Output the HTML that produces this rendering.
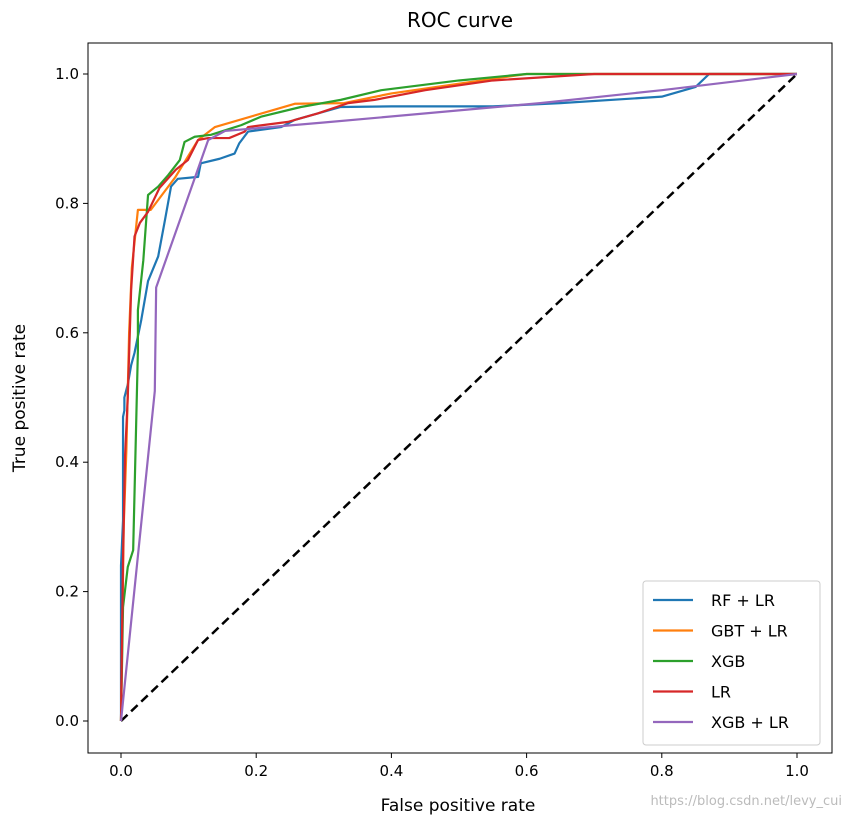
<!DOCTYPE html>
<html><head><meta charset="utf-8"><style>
body{margin:0;background:#fff;}
svg text{font-family:"DejaVu Sans","Liberation Sans",sans-serif;}
</style></head><body>
<svg id="chart" width="852" height="817">
<rect x="0" y="0" width="852" height="817" fill="#fff"/>
<text x="460" y="27" font-size="20" text-anchor="middle">ROC curve</text>
<g id="plot"></g>
<rect x="88" y="43" width="744" height="710" fill="none" stroke="#000" stroke-width="1"/>
<g id="axes"></g>
<text x="458" y="811" font-size="17" text-anchor="middle">False positive rate</text>
<text transform="translate(25,398) rotate(-90)" font-size="17" text-anchor="middle">True positive rate</text>
<text x="842" y="805" font-size="13" fill="#bbb" text-anchor="end">https://blog.csdn.net/levy_cui</text>
<g id="legend">
<rect x="643" y="581" width="177" height="164" rx="3" fill="#fff" fill-opacity="0.8" stroke="#ccc"/>
</g>
</svg>
<script>
const xTicks=[0,0.2,0.4,0.6,0.8,1.0];
const yTicks=[0,0.2,0.4,0.6,0.8,1.0];
const seriesNames=["RF + LR","GBT + LR","XGB","LR","XGB + LR"];
const seriesColors=["#1f77b4","#ff7f0e","#2ca02c","#d62728","#9467bd"];
const rfFpr=[0,0,0.003,0.003,0.005,0.005,0.01,0.015,0.02,0.03,0.04,0.055,0.065,0.074,0.084,0.114,0.118,0.146,0.168,0.175,0.188,0.237,0.257,0.291,0.325,0.4,0.55,0.65,0.8,0.85,0.87,1];
const rfTpr=[0,0.24,0.31,0.47,0.48,0.5,0.52,0.55,0.569,0.62,0.68,0.718,0.774,0.826,0.838,0.841,0.862,0.869,0.877,0.893,0.911,0.918,0.929,0.939,0.949,0.95,0.95,0.955,0.965,0.98,1,1];
const gbtFpr=[0,0.004,0.008,0.012,0.016,0.025,0.044,0.08,0.114,0.139,0.257,0.33,0.4,0.6,1];
const gbtTpr=[0,0.3,0.42,0.6,0.7,0.79,0.79,0.84,0.898,0.918,0.954,0.955,0.97,1,1];
const xgbFpr=[0,0.003,0.01,0.018,0.02,0.025,0.025,0.033,0.04,0.055,0.07,0.087,0.094,0.109,0.133,0.178,0.207,0.266,0.325,0.385,0.5,0.6,1];
const xgbTpr=[0,0.176,0.238,0.264,0.352,0.573,0.635,0.712,0.813,0.826,0.844,0.867,0.895,0.903,0.906,0.921,0.934,0.949,0.96,0.975,0.99,1,1];
const lrFpr=[0,0.003,0.006,0.01,0.015,0.02,0.028,0.04,0.057,0.081,0.099,0.114,0.129,0.16,0.183,0.188,0.247,0.291,0.336,0.375,0.45,0.55,0.7,1];
const lrTpr=[0,0.25,0.41,0.5,0.666,0.749,0.77,0.787,0.824,0.852,0.867,0.898,0.901,0.901,0.911,0.918,0.926,0.939,0.955,0.96,0.975,0.99,1,1];
const xlrFpr=[0,0.05,0.052,0.129,0.154,0.3,0.62,0.8,1];
const xlrTpr=[0,0.51,0.67,0.898,0.912,0.925,0.955,0.975,1];
const xs=v=>121+v*676, ys=v=>721-v*647;
const NS="http://www.w3.org/2000/svg";
const axes=document.getElementById('axes'),plot=document.getElementById('plot'),leg=document.getElementById('legend');
function mk(t,a,p){const e=document.createElementNS(NS,t);for(const k in a)e.setAttribute(k,a[k]);p.appendChild(e);return e;}
xTicks.forEach(t=>{
 const l=mk('line',{x1:xs(t),x2:xs(t),y1:753,y2:758,stroke:'#000'},axes);
 
 
 const tx=mk('text',{x:xs(t),y:776,'font-size':15,'text-anchor':'middle'},axes);tx.textContent=t.toFixed(1);
 
 
});
yTicks.forEach(t=>{
 const l=mk('line',{x1:83,x2:88,y1:ys(t),y2:ys(t),stroke:'#000'},axes);
 
 
 const tx=mk('text',{x:79,y:ys(t)+5,'font-size':15,'text-anchor':'end'},axes);tx.textContent=t.toFixed(1);
 
 
});
const diag=mk('line',{x1:xs(0),y1:ys(0),x2:xs(1),y2:ys(1),stroke:'#000','stroke-width':2.5,'stroke-dasharray':'9,5'},plot);


const series=[[rfFpr,rfTpr],[gbtFpr,gbtTpr],[xgbFpr,xgbTpr],[lrFpr,lrTpr],[xlrFpr,xlrTpr]];
series.forEach((s,i)=>{
 const pts=s[0].map((f,j)=>xs(f)+','+ys(s[1][j])).join(' ');
 const pl=mk('polyline',{points:pts,fill:'none',stroke:seriesColors[i],'stroke-width':2.2,'stroke-linejoin':'round'},plot);
 
 
 const y=600+i*30.5;
 const ll=mk('line',{x1:653,x2:693,y1:y,y2:y,stroke:seriesColors[i],'stroke-width':2.2},leg);
 
 
 const lt=mk('text',{x:711,y:y+6,'font-size':16},leg);lt.textContent=seriesNames[i];
 
 
});
</script>
</body></html>
